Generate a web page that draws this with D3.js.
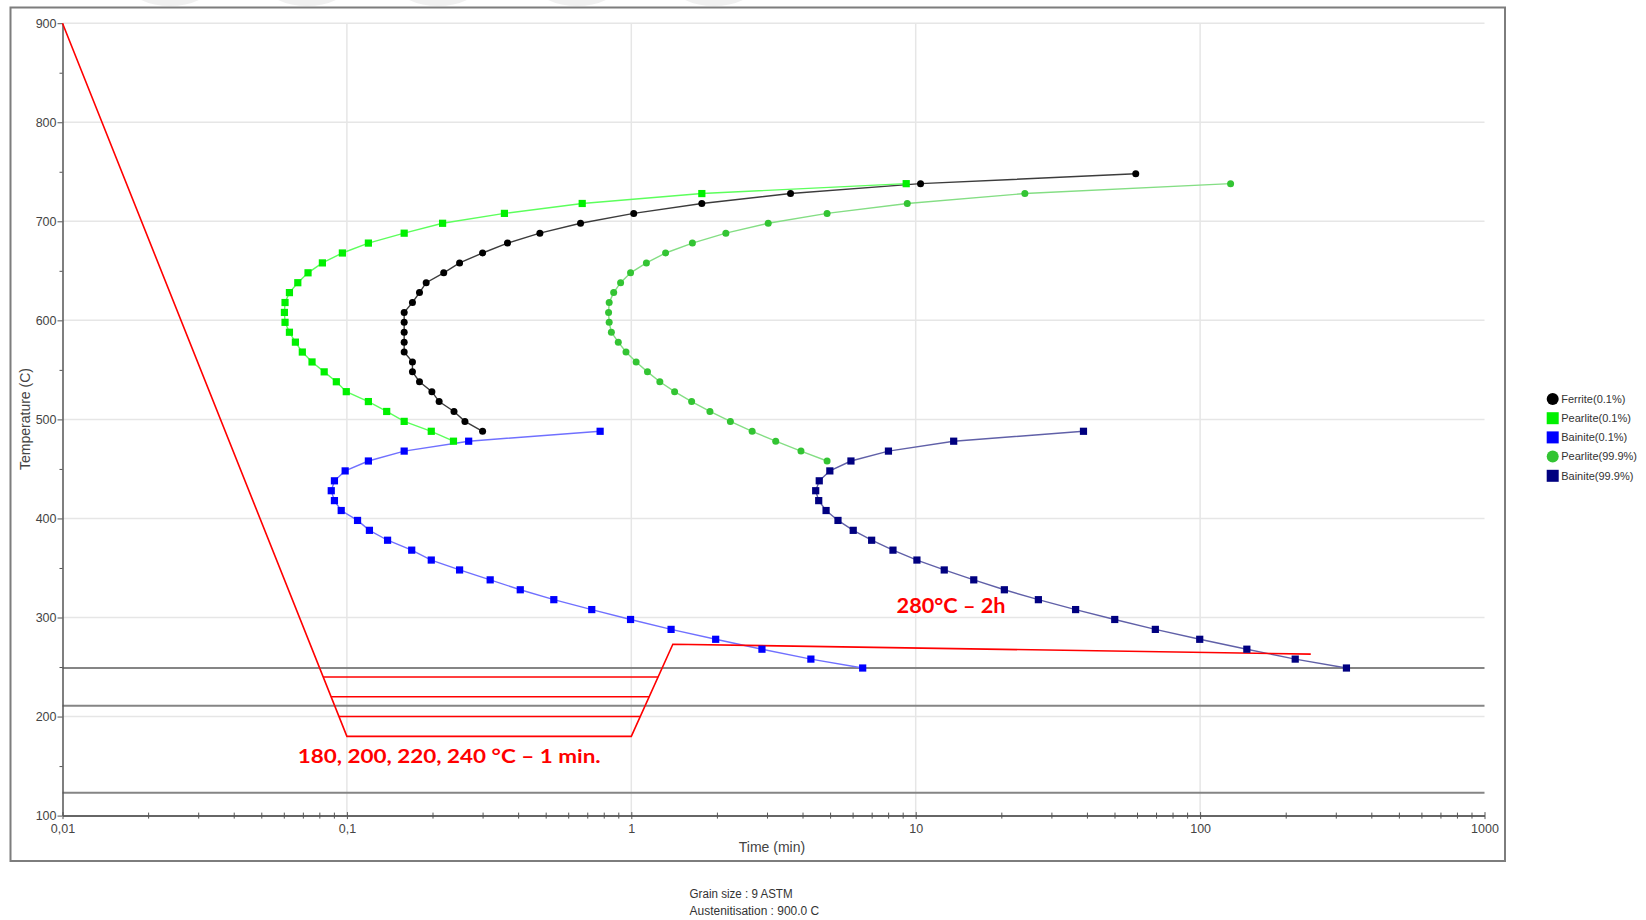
<!DOCTYPE html>
<html>
<head>
<meta charset="utf-8">
<script src="https://cdn.jsdelivr.net/npm/d3@7"></script>
<style>
  html, body { margin: 0; padding: 0; background: #ffffff; overflow: hidden; }
  svg { display: block; }
</style>
</head>
<body>
<svg id="chart" width="1646" height="920"></svg>
<script>
// ---- TTT diagram data: time (min) vs temperature (°C) ----
const timeTicks = [0.01, 0.1, 1, 10, 100, 1000];
const timeTickLabels = ["0,01", "0,1", "1", "10", "100", "1000"];
const tempTicks = [100, 200, 300, 400, 500, 600, 700, 800, 900];
const tempMinorTicks = [150, 250, 350, 450, 550, 650, 750, 850];

const seriesNames = ["Ferrite(0.1%)", "Pearlite(0.1%)", "Bainite(0.1%)", "Pearlite(99.9%)", "Bainite(99.9%)"];

const ferriteTemp = [488, 498, 508, 518, 528, 538, 548, 558, 568, 578, 588, 598, 608, 618, 628, 638, 648, 658, 668, 678, 688, 698, 708, 718, 728, 738, 748];
const ferriteTime = [0.300, 0.260, 0.238, 0.211, 0.199, 0.180, 0.170, 0.170, 0.159, 0.159, 0.159, 0.159, 0.159, 0.170, 0.180, 0.190, 0.219, 0.249, 0.300, 0.367, 0.477, 0.663, 1.02, 1.77, 3.63, 10.4, 59.4];

const pearliteStartTemp = [478, 488, 498, 508, 518, 528, 538, 548, 558, 568, 578, 588, 598, 608, 618, 628, 638, 648, 658, 668, 678, 688, 698, 708, 718, 728, 738];
const pearliteStartTime = [0.237, 0.198, 0.159, 0.138, 0.119, 0.0995, 0.0918, 0.0832, 0.0754, 0.0697, 0.0659, 0.0628, 0.0606, 0.0603, 0.0606, 0.0628, 0.0672, 0.0730, 0.0820, 0.0964, 0.119, 0.159, 0.217, 0.358, 0.672, 1.77, 9.26];

const bainiteStartTemp = [488, 478, 468, 458, 448, 438, 428, 418, 408, 398, 388, 378, 368, 358, 348, 338, 328, 318, 308, 298, 288, 278, 268, 258, 249];
const bainiteStartTime = [0.777, 0.268, 0.159, 0.119, 0.0986, 0.0904, 0.0881, 0.0904, 0.0955, 0.109, 0.120, 0.139, 0.169, 0.198, 0.249, 0.319, 0.407, 0.534, 0.726, 0.994, 1.38, 1.98, 2.88, 4.28, 6.51];

const pearliteEndTemp = [458, 468, 478, 488, 498, 508, 518, 528, 538, 548, 558, 568, 578, 588, 598, 608, 618, 628, 638, 648, 658, 668, 678, 688, 698, 708, 718, 728, 738];
const pearliteEndTime = [4.88, 3.95, 3.22, 2.66, 2.23, 1.89, 1.63, 1.42, 1.26, 1.14, 1.04, 0.958, 0.900, 0.851, 0.836, 0.832, 0.836, 0.867, 0.917, 0.994, 1.13, 1.32, 1.64, 2.15, 3.03, 4.88, 9.34, 24.2, 128];

const bainiteEndTemp = [488, 478, 468, 458, 448, 438, 428, 418, 408, 398, 388, 378, 368, 358, 348, 338, 328, 318, 308, 298, 288, 278, 268, 258, 249];
const bainiteEndTime = [38.9, 13.6, 8.02, 5.92, 4.99, 4.58, 4.45, 4.56, 4.84, 5.33, 6.03, 7.00, 8.32, 10.1, 12.6, 16.0, 20.5, 27.0, 36.5, 50.1, 69.6, 99.7, 146, 216, 327];

// horizontal transformation-temperature lines
const transformTemps = [249, 211, 123];

// heat-treatment cycle: quench, 1 min hold, reheat, hold
const cycleTime = [0.01, 0.1, 1, 1.4, 245];
const cycleTemp = [900, 180, 180, 273, 263];
const holdTemps = [200, 220, 240];
const holdStartTime = [0.0938, 0.0880, 0.0825];
const holdEndTime = [1.075, 1.156, 1.243];

const notes = ["Grain size : 9 ASTM", "Austenitisation : 900.0 C"];
const cycleLabels = ["180, 200, 220, 240 °C – 1 min.", "280°C – 2h"];

// ---- layout ----
const svg = d3.select("#chart");
const plot = { left: 62.5, right: 1484.5, top: 23.2, bottom: 815.6 };

const x = d3.scaleLog().domain([0.01, 1000]).range([plot.left, plot.right]);
const y = d3.scaleLinear().domain([100, 900]).range([plot.bottom, plot.top]);

const styles = [
  { marker: "#000000", line: "#3c3c3c", shape: "circle" },
  { marker: "#00f000", line: "#5cff5c", shape: "square" },
  { marker: "#0000ff", line: "#7070ff", shape: "square" },
  { marker: "#33c433", line: "#84de84", shape: "circle" },
  { marker: "#000080", line: "#6060a8", shape: "square" }
];

const seriesData = [
  ferriteTime.map((t, i) => ({ t, T: ferriteTemp[i] })),
  pearliteStartTime.map((t, i) => ({ t, T: pearliteStartTemp[i] })),
  bainiteStartTime.map((t, i) => ({ t, T: bainiteStartTemp[i] })),
  pearliteEndTime.map((t, i) => ({ t, T: pearliteEndTemp[i] })),
  bainiteEndTime.map((t, i) => ({ t, T: bainiteEndTemp[i] }))
];

// faint tab shapes cut by the top edge of the image
const tabs = svg.append("g").attr("fill", "#f0f0f0");
[170, 307, 438, 577, 714].forEach(cx => {
  tabs.append("ellipse").attr("cx", cx).attr("cy", -14).attr("rx", 40).attr("ry", 20);
});

// outer frame
svg.append("rect")
  .attr("x", 10.5).attr("y", 7.5)
  .attr("width", 1494.5).attr("height", 853.5)
  .attr("fill", "#ffffff")
  .attr("stroke", "#7d7d7d").attr("stroke-width", 2);

// gridlines
const grid = svg.append("g").attr("stroke", "#e6e6e6").attr("stroke-width", 1.5);
grid.selectAll("line.v")
  .data(timeTicks.slice(1, -1))
  .join("line")
  .attr("x1", d => x(d)).attr("x2", d => x(d))
  .attr("y1", plot.top).attr("y2", plot.bottom);
grid.selectAll("line.h")
  .data(tempTicks.slice(1))
  .join("line")
  .attr("x1", plot.left).attr("x2", plot.right)
  .attr("y1", d => y(d)).attr("y2", d => y(d));

// transformation temperature lines
svg.append("g").selectAll("line")
  .data(transformTemps)
  .join("line")
  .attr("x1", plot.left).attr("x2", plot.right)
  .attr("y1", d => y(d)).attr("y2", d => y(d))
  .attr("stroke", "#858585").attr("stroke-width", 2);

// y axis
const yAxis = svg.append("g")
  .attr("transform", `translate(${plot.left},0)`)
  .call(d3.axisLeft(y).tickValues(tempTicks).tickSize(5).tickSizeOuter(0).tickPadding(1).tickFormat(d3.format("d")));
yAxis.select(".domain").attr("stroke", "#555").attr("stroke-width", 1.5);
yAxis.selectAll(".tick line").attr("stroke", "#555");
yAxis.selectAll(".tick text")
  .attr("fill", "#444").attr("font-family", "'Liberation Sans', Arial, sans-serif").attr("font-size", 12.5);

const yMinor = svg.append("g")
  .attr("transform", `translate(${plot.left},0)`)
  .call(d3.axisLeft(y).tickValues(tempMinorTicks).tickSize(3).tickSizeOuter(0).tickFormat(""));
yMinor.select(".domain").remove();
yMinor.selectAll(".tick line").attr("stroke", "#555");

// x axis
const xAxis = svg.append("g")
  .attr("transform", `translate(0,${plot.bottom})`)
  .call(d3.axisBottom(x).tickValues(timeTicks).tickSizeOuter(0).tickFormat((d, i) => timeTickLabels[i]));
xAxis.select(".domain").attr("stroke", "#666").attr("stroke-width", 2);
xAxis.selectAll(".tick line").attr("y1", -3.5).attr("y2", 3.5).attr("stroke", "#555");
xAxis.selectAll(".tick text")
  .attr("y", 17.4).attr("dy", null)
  .attr("fill", "#444").attr("font-family", "'Liberation Sans', Arial, sans-serif").attr("font-size", 12.5);

const minorTimes = x.ticks().filter(v => !timeTicks.some(m => Math.abs(m - v) / m < 1e-6));
const xMinor = svg.append("g")
  .attr("transform", `translate(0,${plot.bottom})`)
  .call(d3.axisBottom(x).tickValues(minorTimes).tickSizeOuter(0).tickFormat(""));
xMinor.select(".domain").remove();
xMinor.selectAll(".tick line").attr("y1", -3).attr("y2", 3).attr("stroke", "#555");

// axis titles
svg.append("text")
  .attr("x", 772).attr("y", 852)
  .attr("text-anchor", "middle")
  .attr("font-family", "'Liberation Sans', Arial, sans-serif").attr("font-size", 14)
  .attr("fill", "#444")
  .text("Time (min)");
svg.append("text")
  .attr("transform", "translate(30,419) rotate(-90)")
  .attr("text-anchor", "middle")
  .attr("font-family", "'Liberation Sans', Arial, sans-serif").attr("font-size", 14)
  .attr("fill", "#444")
  .text("Temperature (C)");

// transformation curves
const line = d3.line().x(d => x(d.t)).y(d => y(d.T));
const curves = svg.append("g");
seriesData.forEach((pts, i) => {
  curves.append("path")
    .datum(pts)
    .attr("d", line)
    .attr("fill", "none")
    .attr("stroke", styles[i].line)
    .attr("stroke-width", 1.4);
});

// heat-treatment cycle
const cycle = svg.append("g").attr("stroke", "#ff0000").attr("fill", "none").attr("stroke-width", 1.6);
cycle.append("path")
  .datum(cycleTime.map((t, i) => ({ t, T: cycleTemp[i] })))
  .attr("d", line)
  .attr("stroke-linejoin", "miter");
cycle.selectAll("line")
  .data(holdTemps)
  .join("line")
  .attr("x1", (d, i) => x(holdStartTime[i]))
  .attr("x2", (d, i) => x(holdEndTime[i]))
  .attr("y1", d => y(d)).attr("y2", d => y(d));

// markers
const markers = svg.append("g");
seriesData.forEach((pts, i) => {
  const g = markers.append("g").attr("fill", styles[i].marker);
  if (styles[i].shape === "circle") {
    g.selectAll("circle").data(pts).join("circle")
      .attr("cx", d => x(d.t)).attr("cy", d => y(d.T)).attr("r", 3.5);
  } else {
    g.selectAll("rect").data(pts).join("rect")
      .attr("x", d => x(d.t) - 3.6).attr("y", d => y(d.T) - 3.6)
      .attr("width", 7.2).attr("height", 7.2);
  }
});

// cycle annotations
svg.append("text")
  .attr("x", 297.7).attr("y", 763.3)
  .attr("font-family", "Lato, 'Open Sans', sans-serif").attr("font-weight", 700).attr("font-size", 19.5)
  .attr("fill", "#ff0000")
  .attr("textLength", 303).attr("lengthAdjust", "spacingAndGlyphs")
  .text(cycleLabels[0]);
svg.append("text")
  .attr("x", 896.6).attr("y", 613.3)
  .attr("font-family", "Lato, 'Open Sans', sans-serif").attr("font-weight", 700).attr("font-size", 20)
  .attr("fill", "#ff0000")
  .attr("textLength", 109).attr("lengthAdjust", "spacingAndGlyphs")
  .text(cycleLabels[1]);

// legend
const legend = svg.append("g").attr("transform", "translate(1552.7,399)");
seriesNames.forEach((name, i) => {
  const row = legend.append("g").attr("transform", `translate(0,${i * 19.2})`);
  if (styles[i].shape === "circle") {
    row.append("circle").attr("r", 6).attr("fill", styles[i].marker);
  } else {
    row.append("rect").attr("x", -6).attr("y", -6).attr("width", 12).attr("height", 12).attr("fill", styles[i].marker);
  }
  row.append("text")
    .attr("x", 8.5).attr("dy", "0.35em")
    .attr("font-family", "'Liberation Sans', Arial, sans-serif").attr("font-size", 11)
    .attr("fill", "#333")
    .text(name);
});

// footnotes
const noteLengths = [103, 129.5];
notes.forEach((n, i) => {
  svg.append("text")
    .attr("x", 689.6).attr("y", 897.5 + i * 17)
    .attr("font-family", "'Liberation Sans', Arial, sans-serif").attr("font-size", 12)
    .attr("fill", "#333")
    .attr("textLength", noteLengths[i]).attr("lengthAdjust", "spacingAndGlyphs")
    .text(n);
});
</script>
</body>
</html>
